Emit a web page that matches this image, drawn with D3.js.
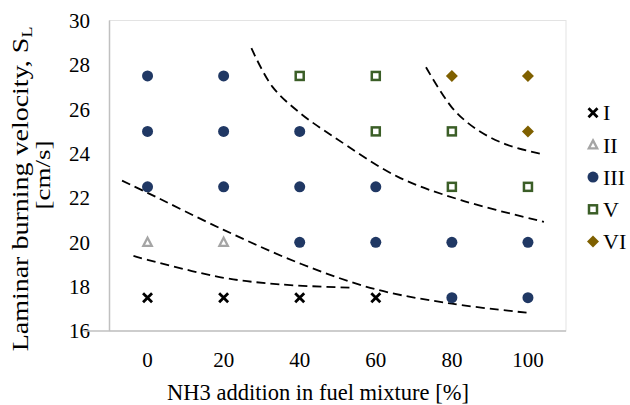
<!DOCTYPE html>
<html>
<head>
<meta charset="utf-8">
<script src="https://cdn.jsdelivr.net/npm/d3@7"></script>
<style>
  body { margin: 0; background: #fff; }
  text { font-family: "Liberation Serif", "Times New Roman", serif; fill: #000; }
</style>
</head>
<body>
<script>
// data
var xTicks = [0, 20, 40, 60, 80, 100];
var yTicks = [16, 18, 20, 22, 24, 26, 28, 30];

var seriesNames = ["I", "II", "III", "V", "VI"];

var regimeI = [[0, 17.5], [20, 17.5], [40, 17.5], [60, 17.5]];
var regimeII = [[0, 20], [20, 20]];
var regimeIII = [[0, 22.5], [0, 25], [0, 27.5], [20, 22.5], [20, 25], [20, 27.5],
                 [40, 20], [40, 22.5], [40, 25], [60, 20], [60, 22.5],
                 [80, 17.5], [80, 20], [100, 17.5], [100, 20]];
var regimeV = [[40, 27.5], [60, 27.5], [60, 25], [80, 25], [80, 22.5], [100, 22.5]];
var regimeVI = [[80, 27.5], [100, 27.5], [100, 25]];

// dashed boundary lines
var boundaryA = [[27.3, 28.75], [32.8, 27.02], [40.3, 25.8], [49, 24.75], [65.7, 22.96], [82.4, 21.9], [104.2, 20.92]];
var boundaryB = [[73.2, 27.89], [80.2, 26.04], [86.7, 25.07], [94.6, 24.39], [103.4, 23.99]];
var boundaryC = [[-6.7, 22.78], [0, 22.23], [20, 20.56], [40, 19.05], [60, 17.88], [80, 17.23], [100, 16.82]];
var boundaryD = [[-3.7, 19.39], [0, 19.21], [20, 18.4], [35, 18.1], [53.4, 17.95]];

var width = 630, height = 405;
var plot = {left: 109.5, right: 566, top: 20.5, bottom: 331};

var xScale = d3.scaleLinear().domain([-10, 110]).range([plot.left, plot.right]);
var yScale = d3.scaleLinear().domain([16, 30]).range([plot.bottom, plot.top]);

var svg = d3.select("body").append("svg")
    .attr("width", width)
    .attr("height", height);

// plot area frame
svg.append("rect")
    .attr("x", plot.left)
    .attr("y", plot.top)
    .attr("width", plot.right - plot.left)
    .attr("height", plot.bottom - plot.top)
    .style("fill", "none")
    .style("stroke", "#e3e3e3")
    .style("stroke-width", 1);

// y axis line
svg.append("line")
    .attr("x1", plot.left).attr("x2", plot.left)
    .attr("y1", plot.top).attr("y2", plot.bottom)
    .style("stroke", "#c0c0c0").style("stroke-width", 1.5);

// y tick labels
svg.selectAll(".ytick")
    .data(yTicks)
    .enter().append("text")
    .attr("class", "ytick")
    .attr("x", 90)
    .attr("y", function(d) { return yScale(d); })
    .attr("dy", "0.35em")
    .attr("text-anchor", "end")
    .style("font-size", "21px")
    .text(function(d) { return d; });

// x axis line (runs through the 16 label like in the original)
svg.append("line")
    .attr("x1", 84).attr("x2", plot.right)
    .attr("y1", plot.bottom).attr("y2", plot.bottom)
    .style("stroke", "#c0c0c0").style("stroke-width", 1.5);

// x tick labels
svg.selectAll(".xtick")
    .data(xTicks)
    .enter().append("text")
    .attr("class", "xtick")
    .attr("x", function(d) { return xScale(d); })
    .attr("y", 367)
    .attr("text-anchor", "middle")
    .style("font-size", "21px")
    .text(function(d) { return d; });

// axis titles
svg.append("text")
    .attr("x", 318)
    .attr("y", 400)
    .attr("text-anchor", "middle")
    .style("font-size", "22.5px")
    .text("NH3 addition in fuel mixture [%]");

// y title is taller than it is thick in the original, so squash it sideways
var yTitle = svg.append("text")
    .attr("transform", "translate(28,189) scale(0.8,1) rotate(-90)")
    .attr("text-anchor", "middle")
    .style("font-size", "28px");
yTitle.append("tspan").text("Laminar burning velocity, S");
yTitle.append("tspan").attr("dy", "0.25em").style("font-size", "18px").text("L");

svg.append("text")
    .attr("transform", "translate(50,175) scale(0.8,1) rotate(-90)")
    .attr("text-anchor", "middle")
    .style("font-size", "27px")
    .text("[cm/s]");

// dashed lines
var line = d3.line()
    .x(function(d) { return xScale(d[0]); })
    .y(function(d) { return yScale(d[1]); })
    .curve(d3.curveCatmullRom);

[boundaryA, boundaryB, boundaryC, boundaryD].forEach(function(b) {
    svg.append("path")
        .attr("d", line(b))
        .style("fill", "none")
        .style("stroke", "#000")
        .style("stroke-width", 1.8)
        .style("stroke-dasharray", "9,5");
});

// marker drawing helpers
var colors = {I: "#000000", II: "#a5a5a5", III: "#203864", V: "#3b5e27", VI: "#7f6000"};

function drawMarker(g, name) {
    if (name === "I") {
        g.append("path").attr("d", "M-4.5,-4.5L4.5,4.5M-4.5,4.5L4.5,-4.5")
            .style("stroke", colors.I).style("stroke-width", 2.8).style("fill", "none");
    } else if (name === "II") {
        g.append("path").attr("d", "M0,-4.5L4.2,3.5L-4.2,3.5Z")
            .style("stroke", colors.II).style("stroke-width", 2.3).style("fill", "#fff");
    } else if (name === "III") {
        g.append("circle").attr("r", 5.5).style("fill", colors.III);
    } else if (name === "V") {
        g.append("rect").attr("x", -4).attr("y", -4).attr("width", 8).attr("height", 8)
            .style("stroke", colors.V).style("stroke-width", 2.5).style("fill", "#fff");
    } else if (name === "VI") {
        g.append("path").attr("d", "M0,-6L6,0L0,6L-6,0Z").style("fill", colors.VI);
    }
}

var allSeries = [regimeI, regimeII, regimeIII, regimeV, regimeVI];

allSeries.forEach(function(data, i) {
    var name = seriesNames[i];
    svg.selectAll(".pt" + name)
        .data(data)
        .enter().append("g")
        .attr("class", "pt" + name)
        .attr("transform", function(d) { return "translate(" + xScale(d[0]) + "," + yScale(d[1]) + ")"; })
        .each(function() { drawMarker(d3.select(this), name); });
});

// legend
var legend = svg.selectAll(".legend")
    .data(seriesNames)
    .enter().append("g")
    .attr("class", "legend")
    .attr("transform", function(d, i) { return "translate(593," + (112.7 + i * 32.2) + ")"; });

legend.each(function(d) { drawMarker(d3.select(this), d); });

legend.append("text")
    .attr("x", 10)
    .attr("dy", "0.35em")
    .style("font-size", "22px")
    .text(function(d) { return d; });
</script>
</body>
</html>
